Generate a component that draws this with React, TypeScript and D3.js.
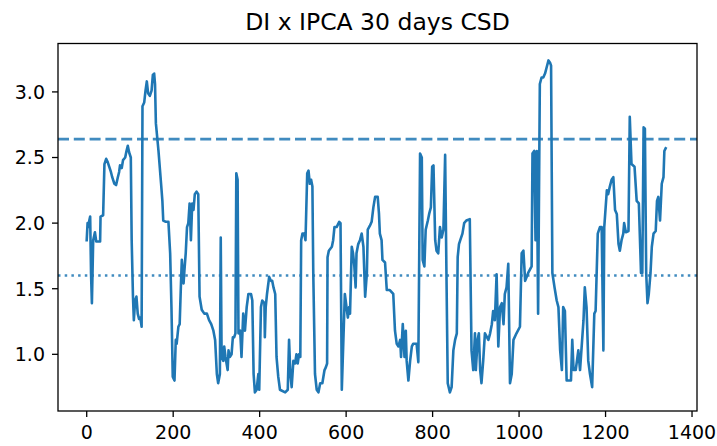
import React from "react";
import * as d3 from "d3";

// ---- data ----
const idx = [
  0, 2, 4, 6, 8, 10, 12, 15, 19, 22, 31, 32, 38, 41, 45, 48, 52, 56, 59, 64, 68, 72, 75, 77, 81, 84, 89, 92, 95, 98,
  102, 104, 107, 109, 112, 115, 118, 121, 124, 127, 129, 133, 136, 139, 142, 146, 150, 153, 156, 158, 160, 166, 172,
  175, 177, 183, 189, 193, 196, 199, 203, 206, 208, 212, 215, 218, 220, 224, 226, 229, 232, 235, 238, 241, 244, 247,
  250, 254, 258, 261, 266, 272, 278, 283, 288, 293, 297, 301, 304, 308, 310, 312, 316,
  318, 321, 326, 328, 331, 335, 338, 341, 344, 346, 349, 351, 355, 358, 362, 366, 370, 374, 380, 383, 386, 389, 393,
  397, 399, 403, 406, 411, 412, 414, 417, 422, 426, 429, 432, 436, 439, 443, 447, 459, 465, 468, 471, 474, 478, 482,
  485, 488, 491, 494, 496, 499, 503, 506, 510, 513, 516, 519, 522, 524, 528, 532, 536, 540, 545, 550, 553, 556, 557,
  560, 567, 570, 573, 578, 584, 587, 590, 597, 604, 607, 609, 613, 616, 619, 622, 624, 628, 632, 636, 640, 644, 648,
  650, 655, 659, 663, 667, 673, 676,
  678, 682, 684, 690, 694, 701, 709, 713, 717, 721, 725, 727, 731, 735, 738, 740, 744, 748, 752, 755, 763, 767, 771,
  775, 777, 781, 784, 789, 792, 796, 799, 802, 806, 809, 813, 817, 821, 825, 829, 832, 835, 840, 844, 848, 852, 856,
  858, 861, 864, 869, 873, 878, 886, 890, 894, 898, 900, 904, 907, 910, 913, 917, 921, 929, 933, 937, 940, 944, 948,
  952, 956, 960, 964, 967, 971, 975, 979, 983, 987, 994, 1002, 1006, 1010, 1014, 1021, 1029, 1031, 1035, 1038, 1041,
  1044,
  1048, 1052, 1056, 1060, 1064, 1068, 1072, 1074, 1077, 1082, 1087, 1091, 1095, 1099, 1102, 1106, 1110, 1114, 1120,
  1123, 1126, 1131, 1137, 1141, 1149, 1152, 1156, 1160, 1164, 1169, 1174, 1177, 1182, 1187, 1191, 1195, 1197, 1203,
  1206, 1210, 1214, 1218, 1222, 1226, 1230, 1233, 1237, 1241, 1243, 1247, 1253, 1256, 1260, 1267, 1272, 1277, 1282,
  1285, 1288, 1291, 1294, 1297, 1300, 1304, 1307, 1311, 1316, 1319, 1322, 1326, 1330, 1334, 1336, 1339,
];

const vals = [
  1.87, 2.0, 1.97, 2.02, 2.05, 1.62, 1.39, 1.87, 1.93, 1.86, 1.86, 2.05, 2.06, 2.45, 2.49, 2.47, 2.43, 2.39, 2.35, 2.3,
  2.29, 2.35, 2.39, 2.44, 2.42, 2.48, 2.5, 2.55, 2.59, 2.54, 2.5, 1.87, 1.44, 1.26, 1.41, 1.44, 1.31, 1.27, 1.28, 1.21,
  2.89, 2.92, 3.01, 3.08, 2.99, 2.97, 3.01, 3.13, 3.14, 3.06, 2.76, 2.55, 2.3, 2.17, 2.02, 2.01, 2.01, 1.77, 1.36, 0.83,
  0.8, 1.11, 1.08, 1.21, 1.23, 1.54, 1.72, 1.54, 1.64, 1.77, 1.97, 2.0, 2.15, 1.87, 2.15, 2.1, 2.22, 2.24, 2.22, 1.44,
  1.34, 1.31, 1.31, 1.26, 1.23, 1.18, 1.11, 0.85, 0.78, 0.85, 1.89, 0.98, 0.95,
  1.06, 0.98, 0.88, 1.03, 0.98, 1.0, 1.13, 1.13, 1.16, 2.38, 2.33, 1.16, 1.18, 0.98, 1.31, 1.18, 1.36, 1.46, 1.46, 1.41,
  0.85, 0.71, 0.73, 0.85, 0.73, 1.36, 1.41, 1.39, 1.13, 1.36, 1.46, 1.59, 1.56, 1.56, 1.51, 1.46, 0.98, 0.83, 0.73,
  0.71, 0.73, 1.11, 0.85, 0.75, 0.95, 0.93, 1.0, 0.93, 1.0, 0.98, 1.87, 1.92, 1.92, 1.87, 2.38, 2.4, 2.3, 2.33, 2.28,
  1.62, 0.85, 0.73, 0.71, 0.78, 0.78, 0.88, 0.9, 0.93, 1.74, 1.79, 1.82, 1.87, 1.97, 1.97, 2.01, 2.0, 0.73, 1.46, 1.28,
  1.36, 1.31, 1.82, 1.77, 1.67, 1.51, 1.77, 1.84, 1.87, 1.92, 1.82, 1.44, 1.62, 1.95, 1.98, 2.01, 2.12, 2.2, 2.2, 2.07,
  1.92, 1.87, 1.72, 1.7, 1.49, 1.49, 1.46, 1.18, 1.08, 1.06, 1.11, 0.98, 1.23, 0.98, 1.18, 0.95, 0.8, 0.95, 1.06, 1.08,
  1.08, 0.94, 2.53, 2.5, 1.72, 1.67, 1.95, 2.02, 2.07, 2.12, 2.43, 2.44, 1.87, 1.79, 1.77, 1.97, 1.89, 1.95, 2.52, 1.62,
  0.78, 0.71, 0.75, 1.03, 1.11, 1.16, 1.74, 1.84, 1.87, 1.92, 2.0, 2.02, 2.03, 1.03, 0.88, 1.16, 0.88, 1.11, 1.16, 0.88,
  0.78, 0.95, 1.16, 1.11, 1.16, 1.23, 1.33, 1.26, 1.61, 1.06, 1.36, 1.39, 1.23, 1.46, 1.51, 1.69, 0.78, 0.85, 1.11,
  1.16, 1.21, 1.77, 1.79, 1.56, 1.62, 1.67, 2.53, 2.55, 1.87, 2.55, 1.31,
  3.06, 3.11, 3.11, 3.14, 3.19, 3.24, 3.22, 3.2, 1.62, 1.51, 1.41, 1.36, 1.03, 0.88, 1.36, 1.33, 0.8, 0.8, 0.8, 1.11,
  0.88, 0.88, 1.03, 0.88, 1.26, 1.51, 1.36, 0.95, 0.85, 0.75, 1.31, 1.33, 1.92, 1.97, 1.97, 1.03, 1.97, 2.25, 2.22,
  2.28, 2.33, 2.35, 2.1, 2.07, 1.84, 1.79, 1.87, 1.92, 2.0, 1.93, 1.94, 2.81, 2.45, 2.43, 2.17, 2.15, 1.62, 1.62, 2.73,
  2.72, 1.62, 1.39, 1.46, 1.62, 1.82, 1.92, 1.94, 2.17, 2.2, 2.02, 2.3, 2.35, 2.55, 2.57,
];

const upperLine = 2.64; // dashed reference line
const lowerLine = 1.6; // dotted reference line

const xTicks = [0, 200, 400, 600, 800, 1000, 1200, 1400];
const yTicks = [1.0, 1.5, 2.0, 2.5, 3.0];
const xLimits = [-66.4, 1411.5];
const yLimits = [0.568, 3.369];
const title = "DI x IPCA 30 days CSD";

// ---- layout ----
const W = 717;
const H = 446;
const L = 58;
const R = 697;
const T = 43.5;
const B = 411;
const COLOR = "#1f77b4";
const FONT = "DejaVu Sans, sans-serif";

export default function App() {
  const x = d3.scaleLinear().domain(xLimits).range([L, R]);
  const y = d3.scaleLinear().domain(yLimits).range([B, T]);
  const pts: [number, number][] = idx.map((d, i) => [d, vals[i]]);
  const line = d3
    .line<[number, number]>()
    .x((d) => x(d[0]))
    .y((d) => y(d[1]));

  return (
    <svg
      width={W}
      height={H}
      style={{ position: "absolute", left: 0, top: 0, background: "#fff" }}
      fontFamily={FONT}
    >
      <rect x={0} y={0} width={W} height={H} fill="#fff" />
      <defs>
        <clipPath id="plot">
          <rect x={L} y={T} width={R - L} height={B - T} />
        </clipPath>
      </defs>
      <g clipPath="url(#plot)">
        <path
          d={line(pts) || ""}
          fill="none"
          stroke={COLOR}
          strokeWidth={2.6}
          strokeLinejoin="round"
          strokeLinecap="square"
        />
        <line
          x1={L}
          x2={R}
          y1={y(upperLine)}
          y2={y(upperLine)}
          stroke={COLOR}
          strokeOpacity={0.85}
          strokeWidth={2.8}
          strokeDasharray="11 4.8"
        />
        <line
          x1={L}
          x2={R}
          y1={y(lowerLine)}
          y2={y(lowerLine)}
          stroke={COLOR}
          strokeOpacity={0.85}
          strokeWidth={2.5}
          strokeDasharray="2.5 4.2"
        />
      </g>
      <rect x={L} y={T} width={R - L} height={B - T} fill="none" stroke="#000" strokeWidth={1.3} />
      {xTicks.map((t) => (
        <g key={"x" + t}>
          <line x1={x(t)} x2={x(t)} y1={B} y2={B + 6} stroke="#000" strokeWidth={1.3} />
          <text x={x(t)} y={439} textAnchor="middle" fontSize={19} fill="#000">
            {t}
          </text>
        </g>
      ))}
      {yTicks.map((t) => (
        <g key={"y" + t}>
          <line x1={L - 6} x2={L} y1={y(t)} y2={y(t)} stroke="#000" strokeWidth={1.3} />
          <text x={45} y={y(t) + 6.9} textAnchor="end" fontSize={19} fill="#000">
            {t.toFixed(1)}
          </text>
        </g>
      ))}
      <text x={(L + R) / 2} y={30} textAnchor="middle" fontSize={23.5} fill="#000">
        {title}
      </text>
    </svg>
  );
}
